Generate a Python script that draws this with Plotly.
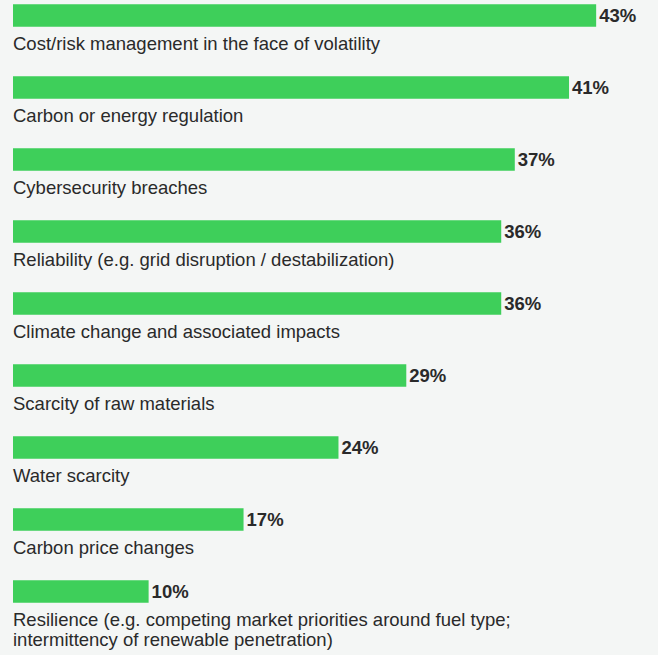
import plotly.graph_objects as go

categories = [
    "Cost/risk management in the face of volatility",
    "Carbon or energy regulation",
    "Cybersecurity breaches",
    "Reliability (e.g. grid disruption / destabilization)",
    "Climate change and associated impacts",
    "Scarcity of raw materials",
    "Water scarcity",
    "Carbon price changes",
    "Resilience (e.g. competing market priorities around fuel type;<br>intermittency of renewable penetration)",
]
values = [43, 41, 37, 36, 36, 29, 24, 17, 10]

positions = list(range(len(categories)))
FONT = "Liberation Sans, Arial, sans-serif"
TEXT = "#2a2a2a"
BG = "#f4f6f5"

fig = go.Figure(go.Bar(
    x=values,
    y=positions,
    orientation="h",
    width=0.31,
    marker=dict(color="#3ecf5a", line=dict(width=0)),
    text=[f"{v}%" for v in values],
    textposition="outside",
    textfont=dict(family=FONT, size=18.5, color=TEXT, weight="bold"),
    cliponaxis=False,
    hoverinfo="skip",
))

for p, c in zip(positions, categories):
    for k, line in enumerate(c.split("<br>")):
        fig.add_annotation(
            x=0, y=p, xref="x", yref="y",
            text=line, showarrow=False,
            xanchor="left", yanchor="middle", align="left",
            xshift=-2, yshift=-28 - 20 * k,
            font=dict(family=FONT, size=18.5, color=TEXT),
        )

fig.update_layout(
    width=658, height=655,
    margin=dict(l=13, r=0, t=0, b=0),
    paper_bgcolor=BG,
    plot_bgcolor=BG,
    showlegend=False,
    xaxis=dict(range=[0, 47.56], visible=False, fixedrange=True),
    yaxis=dict(range=[8.882, -0.2153], visible=False, fixedrange=True),
)

fig.write_html(
    "out.html",
    config={"displayModeBar": False},
    post_script=f"document.body.style.margin='0';document.body.style.background='{BG}';",
)
